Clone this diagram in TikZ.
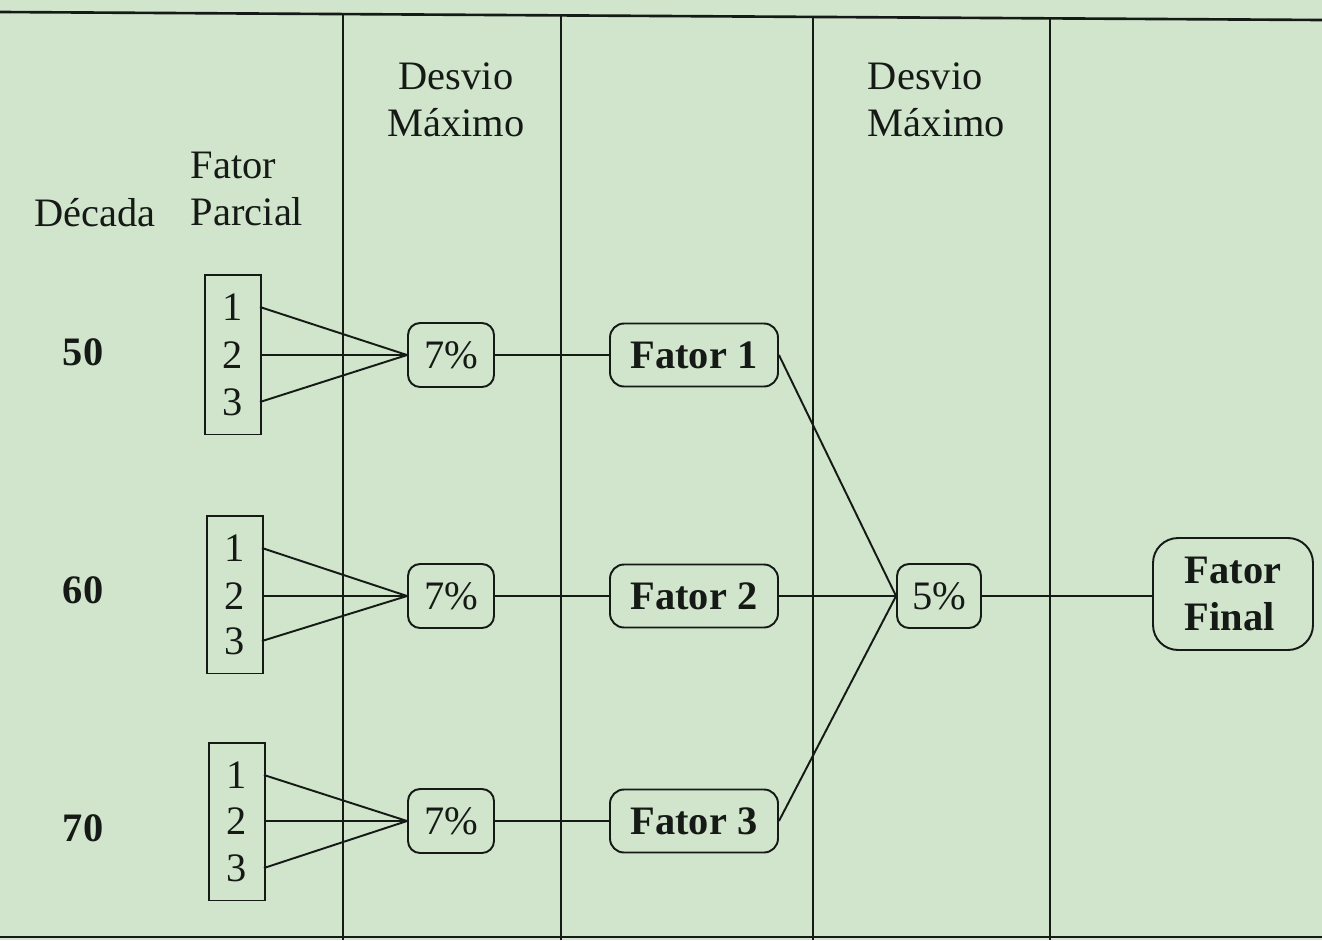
\documentclass[tikz,border=0pt]{standalone}
\usepackage{fontspec}
\setmainfont{Liberation Serif}
\usetikzlibrary{fit}
\definecolor{fundo}{RGB}{208,229,203}
\definecolor{tinta}{RGB}{22,26,22}

\begin{document}
\begin{tikzpicture}[x=0.02cm,y=-0.02cm,line width=1.1pt,color=tinta,
  txt/.style={font=\fontsize{23}{27}\selectfont,inner sep=0pt},
  bold/.style={font=\fontsize{23}{27}\selectfont\bfseries,inner sep=0pt},
  digito/.style={txt,minimum width=1.04cm,minimum height=0.94cm},
  parcial/.style={draw,inner xsep=0.02cm,inner ysep=0.16cm},
  desvio/.style={txt,draw,rounded corners=0.24cm,minimum width=1.72cm,minimum height=1.28cm},
  fator/.style={bold,draw,rounded corners=0.28cm,minimum width=3.36cm,minimum height=1.26cm}]
  \useasboundingbox (0,0) rectangle (1322,940);
  \fill[fundo] (0,0) rectangle (1322,940);
  % linhas da tabela
  \draw[line width=1.5pt] (0,12)--(1322,20);
  \draw[line width=1.5pt] (0,937)--(1322,937);
  \draw (343,14)--(343,940); \draw (561,15)--(561,940);
  \draw (813,17)--(813,940); \draw (1050,18)--(1050,940);
  % cabecalhos
  \node[txt] (hdec) at (95,213){D\'ecada};
  \node[txt,align=left,anchor=west] (hpar) at (190,189){Fator\\Parcial};
  \node[txt,align=center] (hdes1) at (456,100){Desvio\\M\'aximo};
  \node[txt,align=left,anchor=west] (hdes2) at (867,100){Desvio\\M\'aximo};
  % decadas
  \node[bold] (dec50) at (83,352){50};
  \node[bold] (dec60) at (83,590){60};
  \node[bold] (dec70) at (83,828){70};
  % fatores parciais
  \node[digito] (a1) at (233,307){1}; \node[digito] (a2) at (233,355){2}; \node[digito] (a3) at (233,402){3};
  \node[parcial,fit=(a1)(a3)] (ca) {};
  \node[digito] (b1) at (235,548){1}; \node[digito] (b2) at (235,596){2}; \node[digito] (b3) at (235,641){3};
  \node[parcial,fit=(b1)(b3)] (cb) {};
  \node[digito] (c1) at (237,775){1}; \node[digito] (c2) at (237,821){2}; \node[digito] (c3) at (237,868){3};
  \node[parcial,fit=(c1)(c3)] (cc) {};
  % desvio 7% e 5%
  \node[desvio] (pa) at (451,355){7\%};
  \node[desvio] (pb) at (451,596){7\%};
  \node[desvio] (pc) at (451,821){7\%};
  \node[desvio,minimum width=1.68cm] (pq) at (939,596){5\%};
  % fatores
  \node[fator] (f1) at (694,355){Fator 1};
  \node[fator] (f2) at (694,596){Fator 2};
  \node[fator] (f3) at (694,821){Fator 3};
  \node[fator,align=left,minimum width=3.2cm,minimum height=2.24cm,rounded corners=0.5cm] (ff) at (1233,594){Fator\\Final};
  % ligacoes
  \draw (a1.east)--(pa.west); \draw (a2.east)--(pa.west); \draw (a3.east)--(pa.west);
  \draw (b1.east)--(pb.west); \draw (b2.east)--(pb.west); \draw (b3.east)--(pb.west);
  \draw (c1.east)--(pc.west); \draw (c2.east)--(pc.west); \draw (c3.east)--(pc.west);
  \draw (pa)--(f1); \draw (pb)--(f2); \draw (pc)--(f3);
  \draw (f1.east)--(pq.west); \draw (f2)--(pq); \draw (f3.east)--(pq.west);
  \draw (pq)--(pq -| ff.west);
\end{tikzpicture}
\end{document}
